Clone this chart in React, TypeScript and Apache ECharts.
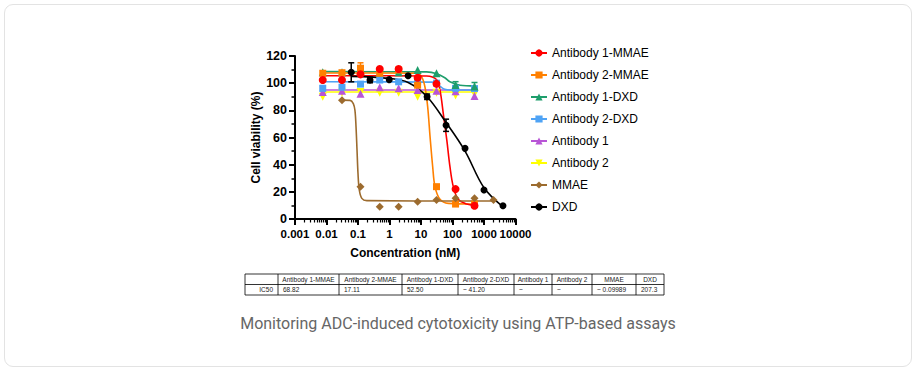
import React, { useEffect, useRef } from 'react';
import * as echarts from 'echarts';

const FONT = "'Liberation Sans', Arial, Helvetica, sans-serif";

// ---------- axis ticks ----------
const X_TICK_VALUES = [0.001, 0.01, 0.1, 1, 10, 100, 1000, 10000];
const X_TICK_LABELS = ['0.001', '0.01', '0.1', '1', '10', '100', '1000', '10000'];
const Y_TICK_LABELS = ['0', '20', '40', '60', '80', '100', '120'];
const X_MINOR_MULTS = [2, 3, 4, 5, 6, 7, 8, 9];

// ---------- concentrations (nM) ----------
const CONC = [0.0076, 0.031, 0.12, 0.49, 1.95, 7.8, 31, 125, 500];
const MMAE_CONC = [0.031, 0.12, 0.49, 1.95, 7.8, 31, 125, 500, 2000];
const DXD_CONC = [0.061, 0.24, 0.98, 3.9, 15.6, 62.5, 250, 1000, 4000];

// ---------- measured viability (%) ----------
const AB1_MMAE = [102.3, 102.3, 106.5, 110.4, 110.4, 104, 99.5, 22, 9.8];
const AB1_MMAE_ERR = [0, 6, 0, 0, 0, 0, 0, 0, 0];
const AB2_MMAE = [107.3, 107.7, 111, 107.3, 109.7, 98.5, 23.8, 11, 11];
const AB2_MMAE_ERR = [0, 0, 4, 0, 0, 0, 0, 0, 0];
const AB1_DXD = [108, 108, 108.5, 108, 108, 109.7, 107.3, 98.6, 97.5];
const AB1_DXD_ERR = [0, 0, 0, 0, 0, 0, 0, 2.5, 3];
const AB2_DXD = [96.2, 97, 99.3, 102.3, 101, 101, 100, 96.2, 96];
const AB2_DXD_ERR = [2, 0, 0, 0, 0, 0, 0, 0, 0];
const AB1 = [93.5, 94.5, 92.3, 97, 96.2, 95, 94.5, 94, 90.5];
const AB2 = [90, 93, 93.5, 93, 93, 90, 93, 91, 92];
const MMAE = [87.4, 23.8, 9, 9, 12.7, 14, 15.2, 15.2, 14];
const DXD = [108, 102.3, 102.6, 105.5, 90, 69, 52, 21.3, 9.8];
const DXD_ERR = [7, 2, 0, 0, 2, 4.5, 0, 0, 0];

// ---------- fitted curves ----------
const AB1_MMAE_FIT_X = [0.0076, 15, 31.5, 40, 51, 66, 83, 106, 152, 282, 500];
const AB1_MMAE_FIT_Y = [105.5, 105.3, 102.5, 95, 77.6, 58, 38.5, 23.8, 14.5, 11, 10];
const AB2_MMAE_FIT_X = [0.0076, 7.3, 10.5, 13.4, 16.3, 19.4, 23.5, 27.8, 40, 74, 500];
const AB2_MMAE_FIT_Y = [107.5, 107.3, 104.6, 97, 82.5, 60.5, 38.5, 23.8, 14.5, 11.5, 11];
const AB1_DXD_FIT_X = [0.0076, 15, 31.6, 57, 83, 173, 500];
const AB1_DXD_FIT_Y = [108.5, 108.3, 107, 104, 101, 98.5, 98];
const AB2_DXD_FIT_X = [0.0076, 22.5, 33, 44, 57, 84, 500];
const AB2_DXD_FIT_Y = [101, 100.8, 99.5, 97, 95.5, 95, 95];
const AB1_FIT_X = [0.0076, 500];
const AB1_FIT_Y = [95, 95];
const AB2_FIT_X = [0.0076, 500];
const AB2_FIT_Y = [93.5, 93.5];
const MMAE_FIT_X = [0.031, 0.056, 0.071, 0.08, 0.0865, 0.093, 0.1, 0.11, 0.132, 0.19, 2000];
const MMAE_FIT_Y = [87.5, 87.3, 85, 80, 68, 51, 33.5, 21.3, 15.2, 13.5, 13.2];
const DXD_FIT_X = [0.061, 0.98, 3.9, 15.6, 62.5, 250, 1000, 4000];
const DXD_FIT_Y = [105, 103.5, 100.5, 90, 71, 50, 23, 9];

// ---------- legend / table ----------
const LEGEND_NAMES = ['Antibody 1-MMAE', 'Antibody 2-MMAE', 'Antibody 1-DXD', 'Antibody 2-DXD', 'Antibody 1', 'Antibody 2', 'MMAE', 'DXD'];
const TABLE_HEADERS = ['', 'Antibody 1-MMAE', 'Antibody 2-MMAE', 'Antibody 1-DXD', 'Antibody 2-DXD', 'Antibody 1', 'Antibody 2', 'MMAE', 'DXD'];
const TABLE_ROW = ['IC50', '68.82', '17.11', '52.50', '~ 41.20', '~', '~', '~ 0.09989', '207.3'];
const CAPTION = 'Monitoring ADC-induced cytotoxicity using ATP-based assays';

type DS = {
  name: string; color: string; symbol: string; rotate: number; size: number;
  x: number[]; y: number[]; err: number[] | null; fitX: number[]; fitY: number[];
};

const DATASETS: Record<string, DS> = {
  'Antibody 1-MMAE': { name: 'Antibody 1-MMAE', color: '#FF0000', symbol: 'circle', rotate: 0, size: 8, x: CONC, y: AB1_MMAE, err: AB1_MMAE_ERR, fitX: AB1_MMAE_FIT_X, fitY: AB1_MMAE_FIT_Y },
  'Antibody 2-MMAE': { name: 'Antibody 2-MMAE', color: '#FF8000', symbol: 'rect', rotate: 0, size: 7, x: CONC, y: AB2_MMAE, err: AB2_MMAE_ERR, fitX: AB2_MMAE_FIT_X, fitY: AB2_MMAE_FIT_Y },
  'Antibody 1-DXD': { name: 'Antibody 1-DXD', color: '#1E9E6C', symbol: 'triangle', rotate: 0, size: 8, x: CONC, y: AB1_DXD, err: AB1_DXD_ERR, fitX: AB1_DXD_FIT_X, fitY: AB1_DXD_FIT_Y },
  'Antibody 2-DXD': { name: 'Antibody 2-DXD', color: '#4FA3F5', symbol: 'rect', rotate: 0, size: 7, x: CONC, y: AB2_DXD, err: AB2_DXD_ERR, fitX: AB2_DXD_FIT_X, fitY: AB2_DXD_FIT_Y },
  'Antibody 1': { name: 'Antibody 1', color: '#B855D6', symbol: 'triangle', rotate: 0, size: 8, x: CONC, y: AB1, err: null, fitX: AB1_FIT_X, fitY: AB1_FIT_Y },
  'Antibody 2': { name: 'Antibody 2', color: '#FFFF00', symbol: 'triangle', rotate: 180, size: 8, x: CONC, y: AB2, err: null, fitX: AB2_FIT_X, fitY: AB2_FIT_Y },
  'MMAE': { name: 'MMAE', color: '#9C6B2E', symbol: 'diamond', rotate: 0, size: 8, x: MMAE_CONC, y: MMAE, err: null, fitX: MMAE_FIT_X, fitY: MMAE_FIT_Y },
  'DXD': { name: 'DXD', color: '#000000', symbol: 'circle', rotate: 0, size: 7, x: DXD_CONC, y: DXD, err: DXD_ERR, fitX: DXD_FIT_X, fitY: DXD_FIT_Y },
};

const DRAW_ORDER = ['Antibody 2', 'Antibody 1', 'Antibody 2-DXD', 'Antibody 1-DXD', 'Antibody 2-MMAE', 'Antibody 1-MMAE', 'MMAE', 'DXD'];

// layout of table (pixels)
const COL_EDGES = [245, 278, 339, 402, 458, 514, 552, 592, 636, 664];
const ROW_EDGES = [274, 284.5, 295];

function buildOption() {
  const minorTicks: number[] = [];
  for (let e = -3; e <= 3; e++) {
    for (const m of X_MINOR_MULTS) {
      minorTicks.push(Number((m * Math.pow(10, e)).toPrecision(6)));
    }
  }

  const series: any[] = [];
  DRAW_ORDER.forEach((key) => {
    const d = DATASETS[key];
    series.push({
      type: 'line',
      name: d.name,
      data: d.fitX.map((x, i) => [x, d.fitY[i]]),
      smooth: 0.35,
      showSymbol: false,
      symbol: d.symbol,
      symbolRotate: d.rotate,
      symbolSize: d.size,
      lineStyle: { color: d.color, width: 1.6 },
      itemStyle: { color: d.color },
      color: d.color,
      silent: true,
      z: 2,
    });
    if (d.err) {
      const errRows = d.x
        .map((x, i) => [x, d.y[i], (d.err as number[])[i]])
        .filter((r) => r[2] > 0);
      series.push({
        type: 'custom',
        name: d.name + ' error',
        silent: true,
        z: 3,
        encode: { x: 0, y: 1 },
        data: errRows,
        renderItem: (params: any, api: any) => {
          const x = api.value(0);
          const y = api.value(1);
          const e = api.value(2);
          const top = api.coord([x, y + e]);
          const bot = api.coord([x, y - e]);
          const cap = 3;
          const style = { stroke: d.color, lineWidth: 1.5 };
          return {
            type: 'group',
            children: [
              { type: 'line', shape: { x1: top[0], y1: top[1], x2: bot[0], y2: bot[1] }, style },
              { type: 'line', shape: { x1: top[0] - cap, y1: top[1], x2: top[0] + cap, y2: top[1] }, style },
              { type: 'line', shape: { x1: bot[0] - cap, y1: bot[1], x2: bot[0] + cap, y2: bot[1] }, style },
            ],
          };
        },
      });
    }
    series.push({
      type: 'scatter',
      name: d.name + ' data',
      symbol: d.symbol,
      symbolRotate: d.rotate,
      symbolSize: d.size,
      itemStyle: { color: d.color, opacity: 1 },
      data: d.x.map((x, i) => [x, d.y[i]]),
      silent: true,
      z: 4,
    });
  });

  // ---- table + caption graphics ----
  const graphic: any[] = [];
  const lineStyle = { stroke: '#000', lineWidth: 0.8 };
  ROW_EDGES.forEach((y) => {
    graphic.push({ type: 'line', shape: { x1: COL_EDGES[0], y1: y, x2: COL_EDGES[COL_EDGES.length - 1], y2: y }, style: lineStyle });
  });
  COL_EDGES.forEach((x) => {
    graphic.push({ type: 'line', shape: { x1: x, y1: ROW_EDGES[0], x2: x, y2: ROW_EDGES[ROW_EDGES.length - 1] }, style: lineStyle });
  });
  const tStyle = { fontSize: 6.5, fontFamily: FONT, fill: '#1a1a1a' };
  TABLE_HEADERS.forEach((h, i) => {
    if (!h) return;
    graphic.push({
      type: 'text',
      x: (COL_EDGES[i] + COL_EDGES[i + 1]) / 2,
      y: (ROW_EDGES[0] + ROW_EDGES[1]) / 2,
      style: { ...tStyle, text: h, textAlign: 'center', textVerticalAlign: 'middle' },
    });
  });
  TABLE_ROW.forEach((v, i) => {
    const first = i === 0;
    graphic.push({
      type: 'text',
      x: first ? COL_EDGES[i + 1] - 5 : COL_EDGES[i] + 5,
      y: (ROW_EDGES[1] + ROW_EDGES[2]) / 2,
      style: { ...tStyle, text: v, textAlign: first ? 'right' : 'left', textVerticalAlign: 'middle' },
    });
  });
  graphic.push({
    type: 'text',
    x: 458,
    y: 323,
    style: { text: CAPTION, fontSize: 16, fontFamily: 'Roboto, sans-serif', fill: '#666666', textAlign: 'center', textVerticalAlign: 'middle' },
  });

  const axisName = { fontFamily: FONT, fontSize: 12, fontWeight: 'bold', color: '#000' };
  const tickLabel = { fontFamily: FONT, fontSize: 11.5, fontWeight: 'bold', color: '#000' };

  return {
    animation: false,
    backgroundColor: 'transparent',
    grid: { left: 295, top: 56, width: 220.5, height: 163, containLabel: false },
    xAxis: [
      {
        type: 'log',
        logBase: 10,
        min: 0.001,
        max: 10000,
        position: 'bottom',
        axisLine: { show: true, onZero: false, lineStyle: { color: '#000', width: 2 } },
        axisTick: { show: true, customValues: X_TICK_VALUES, length: 6, lineStyle: { color: '#000', width: 2 } },
        axisLabel: {
          ...tickLabel,
          margin: 9,
          showMinLabel: true,
          showMaxLabel: true,
          hideOverlap: false,
          customValues: X_TICK_VALUES,
          formatter: (v: number) => {
            const idx = X_TICK_VALUES.findIndex((t) => Math.abs(Math.log10(t) - Math.log10(v)) < 1e-6);
            return idx >= 0 ? X_TICK_LABELS[idx] : '';
          },
        },
        splitLine: { show: false },
        name: 'Concentration (nM)',
        nameLocation: 'middle',
        nameGap: 28,
        nameTextStyle: axisName,
      },
      {
        type: 'log',
        logBase: 10,
        min: 0.001,
        max: 10000,
        position: 'bottom',
        axisLine: { show: false, onZero: false },
        axisTick: { show: true, customValues: minorTicks, length: 3.5, lineStyle: { color: '#000', width: 1.2 } },
        axisLabel: { show: false },
        splitLine: { show: false },
      },
    ],
    yAxis: {
      type: 'value',
      min: 0,
      max: 120,
      interval: 20,
      axisLine: { show: true, onZero: false, lineStyle: { color: '#000', width: 2 } },
      axisTick: { show: true, length: 6, lineStyle: { color: '#000', width: 2 } },
      minorTick: { show: true, splitNumber: 2, length: 3.5, lineStyle: { color: '#000', width: 1.5 } },
      axisLabel: {
        ...tickLabel,
        fontSize: 12.5,
        margin: 8,
        formatter: (v: number) => Y_TICK_LABELS[Math.round(v / 20)] ?? '',
      },
      splitLine: { show: false },
      name: 'Cell viability (%)',
      nameLocation: 'middle',
      nameGap: 30,
      nameTextStyle: axisName,
    },
    legend: {
      data: LEGEND_NAMES,
      orient: 'vertical',
      left: 525,
      top: 42,
      itemWidth: 16,
      itemHeight: 9,
      itemGap: 10,
      selectedMode: false,
      textStyle: { fontFamily: FONT, fontSize: 12, color: '#000' },
    },
    graphic,
    series,
  };
}

export default function App() {
  const ref = useRef<HTMLDivElement>(null);
  useEffect(() => {
    if (!ref.current) return;
    const chart = echarts.init(ref.current, null, { renderer: 'svg' });
    chart.setOption(buildOption() as any);
    return () => chart.dispose();
  }, []);
  return (
    <div style={{ position: 'fixed', left: 0, top: 0, width: 916, height: 373, background: '#fff' }}>
      <div
        style={{
          position: 'absolute', left: 4, top: 4, width: 906, height: 361,
          border: '1px solid #e3e3e3', borderRadius: 9, background: '#fff',
        }}
      />
      <div ref={ref} style={{ position: 'absolute', left: 0, top: 0, width: 916, height: 373 }} />
    </div>
  );
}
